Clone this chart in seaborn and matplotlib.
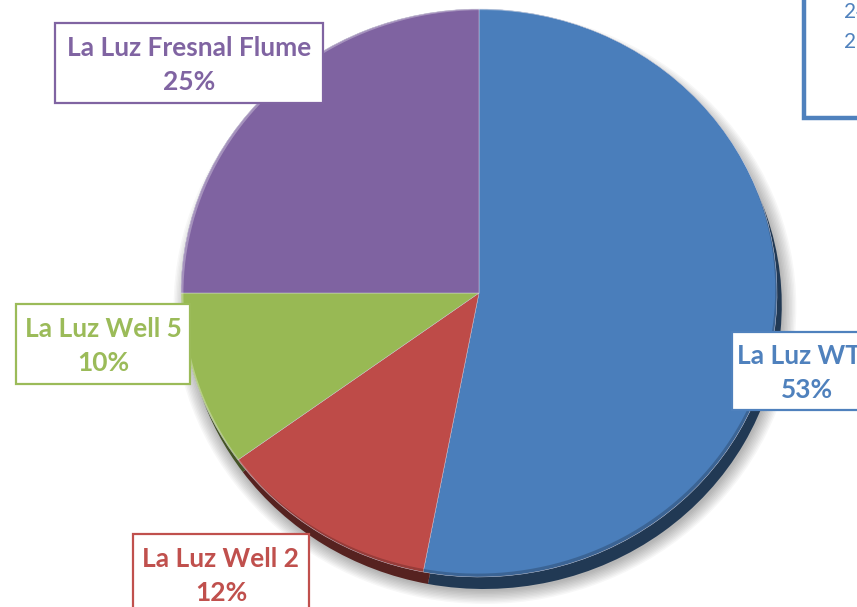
import numpy as np
import matplotlib
matplotlib.use("Agg")
import matplotlib.pyplot as plt
from matplotlib.patches import Ellipse, Rectangle, PathPatch
from matplotlib.path import Path
import seaborn as sns

# chart data
sources = ["La Luz WTP", "La Luz Well 2", "La Luz Well 5", "La Luz Fresnal Flume"]
shares = [53, 12, 10, 25]
slice_colors = ["#4a7ebb", "#be4b48", "#98b954", "#7f63a1"]
text_colors = ["#4f81bd", "#c0504d", "#9bbb59", "#8064a2"]
# label boxes (centre x, centre y, width, height) in image pixels
label_boxes = [(807, 371, 150, 78), (221, 574, 176, 80), (103, 344, 174, 80), (189, 63, 268, 80)]

sns.set_theme(style="white")
plt.rcParams['font.family'] = ['Lato', 'DejaVu Sans']

W, H = 857, 607
fig = plt.figure(figsize=(W / 100, H / 100), dpi=100)
fig.patch.set_facecolor("white")

# pie centre and scale in pixels
cx, cy, sx, sy = 479, 293, 298, 284
ax = fig.add_axes([0, 0, 1, 1])
ax.axis("off")

# soft shadow behind the pie
for k in range(10):
    grow = 0.005 * k
    sh = Ellipse((0.02, -0.05), 2 + 2 * grow, 2 + 2 * grow, facecolor="#000000",
                 alpha=0.03, edgecolor="none", zorder=0)
    ax.add_patch(sh)

# side of the disc: same pie, darker, shifted down
dark = [tuple(c * 0.45 for c in matplotlib.colors.to_rgb(col)) for col in slice_colors]
side, _ = ax.pie(shares, colors=dark, startangle=90, counterclock=False,
                 radius=1, center=(0.016, -12 / sy),
                 wedgeprops=dict(edgecolor="none", linewidth=0))
for w in side:
    w.set_zorder(1)

wedges, _ = ax.pie(shares, colors=slice_colors, startangle=90, counterclock=False,
                   radius=1, center=(0, 0),
                   wedgeprops=dict(edgecolor="#d8d8e8", linewidth=0.3))
for w in wedges:
    w.set_zorder(2)

ax.set_aspect("auto")
ax.set_xlim((0 - cx) / sx, (W - cx) / sx)
ax.set_ylim((cy - H) / sy, cy / sy)

# rim shading on the top face
t = np.linspace(0, 2 * np.pi, 200)
def crescent(dx, dy, color, alpha):
    outer = np.column_stack([np.cos(t), np.sin(t)])
    inner = np.column_stack([np.cos(t[::-1]) + dx, np.sin(t[::-1]) + dy])
    verts = np.vstack([outer, inner])
    codes = np.full(len(verts), Path.LINETO)
    codes[0] = Path.MOVETO
    codes[len(outer)] = Path.MOVETO
    p = PathPatch(Path(verts, codes), facecolor=color, edgecolor="none",
                  alpha=alpha, zorder=3)
    ax.add_patch(p)
    clip = Ellipse((0, 0), 2, 2, transform=ax.transData)
    p.set_clip_path(clip)

crescent(-0.006, 0.012, "#000000", 0.2)
crescent(0.008, -0.004, "#ffffff", 0.3)

# overlay in image pixel coordinates for the label boxes
ov = fig.add_axes([0, 0, 1, 1], zorder=5)
ov.set_xlim(0, W)
ov.set_ylim(H, 0)
ov.axis("off")
ov.patch.set_alpha(0)

for name, pct, col, (bx, by, bw, bh) in zip(sources, shares, text_colors, label_boxes):
    ov.add_patch(Rectangle((bx - bw / 2, by - bh / 2), bw, bh, facecolor="white",
                           edgecolor=col, linewidth=1.6))
    ov.text(bx, by + 2, f"{name}\n{pct}%", ha="center", va="center", color=col,
            fontsize=19, fontweight="bold", linespacing=1.5)

# partly visible text box at the top right
ov.add_patch(Rectangle((804, -20), 120, 138, facecolor="white", edgecolor="#4f81bd",
                       linewidth=3.2))
ov.text(844, 12, "24", ha="left", va="center", color="#4f81bd", fontsize=15)
ov.text(844, 42, "2", ha="left", va="center", color="#4f81bd", fontsize=15)

fig.savefig("out.png", dpi=100, facecolor="white")
